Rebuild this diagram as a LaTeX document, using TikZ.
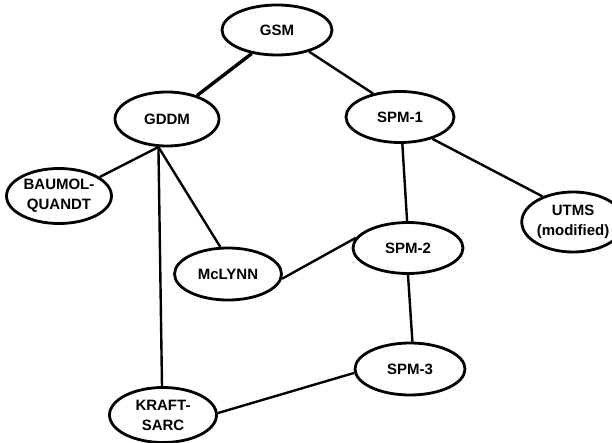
\documentclass[tikz,border=0pt]{standalone}
\usepackage{fontspec}
\setmainfont{Liberation Sans}
\usetikzlibrary{shapes.geometric}
\begin{document}
\begin{tikzpicture}[x=1pt,y=-1pt,
  model/.style={ellipse,draw=black,line width=2.8pt,inner sep=0pt,align=center,
    font=\fontsize{15}{20}\selectfont\bfseries},
  link/.style={line width=2.4pt},
  thicklink/.style={line width=3.4pt}]
\useasboundingbox (0,0) rectangle (612,443);
\node[model,minimum width=110pt,minimum height=50pt] (GSM) at (277,30) {GSM};
\node[model,minimum width=104pt,minimum height=54pt] (GDDM) at (167,119) {GDDM};
\node[model,minimum width=108pt,minimum height=51pt] (SPM1) at (400,117) {SPM-1};
\node[model,minimum width=105pt,minimum height=55pt] (BQ) at (59,196) {BAUMOL-\\QUANDT};
\node[model,minimum width=86pt,minimum height=60pt] (UTMS) at (573,222) {UTMS\\(modified)};
\node[model,minimum width=107pt,minimum height=52pt] (MCL) at (228,274) {McLYNN};
\node[model,minimum width=110pt,minimum height=51pt] (SPM2) at (408,248) {SPM-2};
\node[model,minimum width=110pt,minimum height=52pt] (SPM3) at (410,369) {SPM-3};
\node[model,minimum width=107pt,minimum height=55pt] (KS) at (163,415) {KRAFT-\\SARC};
\coordinate (GD) at (GDDM.253);
\draw[thicklink] (GSM.223) -- (GDDM.38);
\draw[link] (GSM.326) -- (SPM1.139);
\draw[link] (GD) -- (BQ.25);
\draw[link] (GD) -- (MCL.106);
\draw[link] (GD) -- (KS.92);
\draw[link] (SPM1.275) -- (SPM2.92);
\draw[link] (SPM1.326) -- (UTMS.140);
\draw[link] (MCL.355) -- (SPM2.169);
\draw[link] (SPM2.270) -- (SPM3.85);
\draw[link] (SPM3.184) -- (KS.2);
\end{tikzpicture}
\end{document}
